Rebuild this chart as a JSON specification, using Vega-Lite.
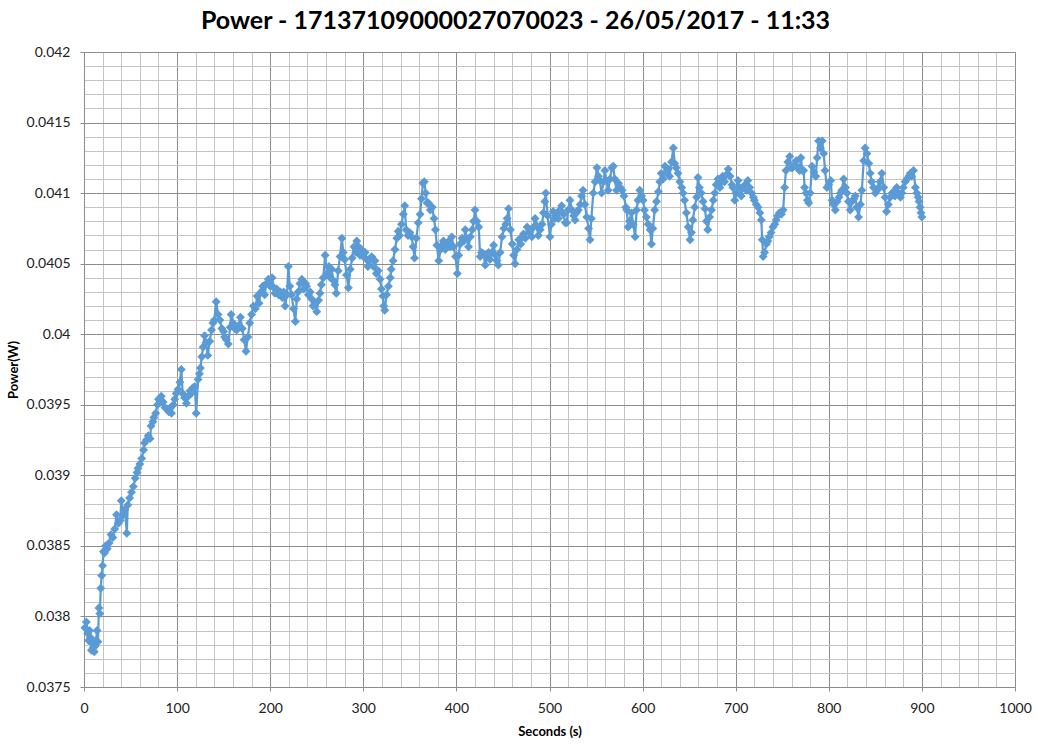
{
"$schema":"https://vega.github.io/schema/vega-lite/v6.json",
"width":931,"height":635,
"autosize":"none",
"padding":{"left":84,"top":52,"right":23,"bottom":60},
"background":"white",
"title":{"text":"Power - 17137109000027070023 - 26/05/2017 - 11:33","font":"Lato","fontSize":25,"fontWeight":"bold","color":"#000000","anchor":"middle","dx":-34,"offset":11},
"config":{"view":{"stroke":null}},
"data":{"values":[
{"s":1,"p":0.03792},{"s":2.5,"p":0.03796},{"s":4,"p":0.03788},{"s":5,"p":0.03783},{"s":6,"p":0.0379},{"s":7,"p":0.03785},{"s":8,"p":0.03776},{"s":9,"p":0.03781},{"s":10,"p":0.03778},{"s":11,"p":0.03775},{"s":12,"p":0.03779},{"s":13,"p":0.03783},{"s":14,"p":0.0379},{"s":15,"p":0.03782},{"s":16,"p":0.03806},{"s":17,"p":0.03802},{"s":18,"p":0.0382},{"s":19,"p":0.03829},{"s":20,"p":0.03836},{"s":21,"p":0.03846},{"s":22,"p":0.03845},{"s":23,"p":0.0385},{"s":25,"p":0.03848},{"s":27,"p":0.03852},{"s":29,"p":0.03858},{"s":31,"p":0.03856},
{"s":33,"p":0.03862},{"s":35,"p":0.03872},{"s":37,"p":0.03866},{"s":39,"p":0.03868},{"s":40,"p":0.03882},{"s":42,"p":0.03872},{"s":44,"p":0.03876},{"s":46,"p":0.03859},{"s":47,"p":0.03879},{"s":49,"p":0.03884},{"s":51,"p":0.03888},{"s":53,"p":0.03892},{"s":55,"p":0.03898},{"s":57,"p":0.03902},{"s":58,"p":0.03905},{"s":60,"p":0.03908},{"s":62,"p":0.03912},{"s":64,"p":0.03918},{"s":65,"p":0.03923},{"s":67,"p":0.03925},{"s":69,"p":0.03928},{"s":71,"p":0.03926},{"s":72,"p":0.03935},{"s":74,"p":0.03938},{"s":75,"p":0.03941},{"s":77,"p":0.03944},{"s":79,"p":0.0395},{"s":80,"p":0.03954},{"s":82,"p":0.03952},{"s":83,"p":0.03956},{"s":85,"p":0.03952},{"s":87,"p":0.03948},{"s":89,"p":0.03947},{"s":91,"p":0.03945},{"s":93,"p":0.03948},{"s":94,"p":0.03944},{"s":96,"p":0.0395},{"s":97.5,"p":0.03954},{"s":99,"p":0.03958},{"s":101,"p":0.03961},{"s":103,"p":0.03966},{"s":104.5,"p":0.03975},{"s":106,"p":0.03958},{"s":108,"p":0.03955},{"s":110,"p":0.03951},{"s":112,"p":0.03956},{"s":114,"p":0.0396},{"s":115,"p":0.03958},{"s":117,"p":0.03962},{"s":119,"p":0.03963},{"s":120.5,"p":0.03944},{"s":122.5,"p":0.03968},{"s":124,"p":0.03972},{"s":125,"p":0.03976},{"s":126.5,"p":0.03984},{"s":128,"p":0.03991},{"s":129.5,"p":0.03999},{"s":131,"p":0.03994},{"s":133,"p":0.03985},{"s":135,"p":0.03995},{"s":137,"p":0.04003},{"s":138.5,"p":0.04008},{"s":140,"p":0.0401},{"s":142,"p":0.04023},{"s":144,"p":0.04014},{"s":146,"p":0.0401},{"s":148,"p":0.04004},{"s":150,"p":0.04002},{"s":151,"p":0.03998},{"s":153,"p":0.03996},{"s":155,"p":0.03993},{"s":157,"p":0.04005},{"s":158,"p":0.04014},{"s":160,"p":0.04008},{"s":162,"p":0.04004},{"s":164,"p":0.04003},{"s":166,"p":0.04006},{"s":168,"p":0.04012},{"s":170,"p":0.04004},{"s":172,"p":0.03996},{"s":174,"p":0.03988},{"s":176,"p":0.03998},{"s":178,"p":0.04008},{"s":180,"p":0.04014},{"s":182,"p":0.0402},{"s":184,"p":0.04018},{"s":186,"p":0.04027},{"s":188,"p":0.04022},{"s":190,"p":0.0403},{"s":192,"p":0.04034},{"s":194,"p":0.04028},{"s":196,"p":0.04036},{"s":198,"p":0.04039},{"s":200,"p":0.04034},
{"s":202,"p":0.0404},{"s":204,"p":0.04033},{"s":205,"p":0.04029},{"s":207,"p":0.04032},{"s":209,"p":0.04028},{"s":211,"p":0.0403},{"s":213,"p":0.04026},{"s":214.5,"p":0.0403},{"s":216,"p":0.0402},{"s":218,"p":0.04028},{"s":219.5,"p":0.04048},{"s":221,"p":0.04034},{"s":223,"p":0.04028},{"s":225,"p":0.04018},{"s":227,"p":0.04009},{"s":228.5,"p":0.04025},{"s":230,"p":0.0403},{"s":232,"p":0.04036},{"s":234,"p":0.04039},{"s":236,"p":0.04032},{"s":238,"p":0.04036},{"s":239,"p":0.04034},{"s":241,"p":0.04028},{"s":243,"p":0.0403},{"s":244.5,"p":0.04025},{"s":246,"p":0.0402},{"s":248,"p":0.04022},{"s":250,"p":0.04016},{"s":252,"p":0.04024},{"s":253.5,"p":0.04029},{"s":255,"p":0.04035},{"s":257,"p":0.0404},{"s":259,"p":0.04056},{"s":261,"p":0.04043},{"s":263,"p":0.04048},{"s":264.5,"p":0.0404},{"s":266,"p":0.04046},{"s":268,"p":0.04038},{"s":269.5,"p":0.04035},{"s":271,"p":0.04029},{"s":273,"p":0.04045},{"s":275,"p":0.04055},{"s":277,"p":0.04068},{"s":278.5,"p":0.04058},{"s":280,"p":0.04053},{"s":282,"p":0.04042},{"s":284,"p":0.04033},{"s":286,"p":0.04046},{"s":288,"p":0.04054},{"s":290,"p":0.04062},{"s":292,"p":0.04058},{"s":293,"p":0.04066},{"s":295,"p":0.04062},{"s":296.5,"p":0.04056},{"s":298,"p":0.0406},{"s":300,"p":0.04055},
{"s":302,"p":0.04058},{"s":303.5,"p":0.04053},{"s":305,"p":0.04048},{"s":307,"p":0.04052},{"s":309,"p":0.04055},{"s":311,"p":0.04048},{"s":312.5,"p":0.04052},{"s":314,"p":0.04043},{"s":316,"p":0.04045},{"s":318,"p":0.04039},{"s":319.5,"p":0.04032},{"s":321,"p":0.04027},{"s":322,"p":0.0402},{"s":323,"p":0.04017},{"s":325,"p":0.04028},{"s":327,"p":0.04034},{"s":329,"p":0.0404},{"s":330,"p":0.04046},{"s":332,"p":0.04052},{"s":334,"p":0.0406},{"s":336,"p":0.04068},{"s":337.5,"p":0.04073},{"s":339,"p":0.0407},{"s":341,"p":0.04078},{"s":343,"p":0.04085},{"s":344.5,"p":0.04091},{"s":346,"p":0.04074},{"s":348,"p":0.0407},{"s":350,"p":0.04072},{"s":352,"p":0.04069},{"s":353.5,"p":0.04062},{"s":355,"p":0.04054},{"s":357,"p":0.04068},{"s":359,"p":0.04079},{"s":361,"p":0.04085},{"s":362.5,"p":0.04096},{"s":364,"p":0.04107},{"s":365.5,"p":0.04108},{"s":367,"p":0.041},{"s":368.5,"p":0.04093},{"s":370,"p":0.04093},{"s":372,"p":0.04088},{"s":374,"p":0.0409},{"s":376,"p":0.04082},{"s":377.5,"p":0.04074},{"s":379,"p":0.04063},{"s":381,"p":0.04052},{"s":383,"p":0.0406},{"s":384.5,"p":0.04063},{"s":386,"p":0.04066},{"s":388,"p":0.0406},{"s":390,"p":0.04064},{"s":392,"p":0.04066},{"s":393.5,"p":0.04062},{"s":395,"p":0.04069},{"s":397,"p":0.04062},{"s":399,"p":0.04055},
{"s":401,"p":0.04043},{"s":402.5,"p":0.04056},{"s":404,"p":0.04064},{"s":406,"p":0.04068},{"s":408,"p":0.04066},{"s":409.5,"p":0.04074},{"s":411,"p":0.04068},{"s":413,"p":0.04062},{"s":415,"p":0.04069},{"s":417,"p":0.04074},{"s":418.5,"p":0.0408},{"s":420,"p":0.04088},{"s":422,"p":0.0408},{"s":424,"p":0.04076},{"s":425.5,"p":0.04055},{"s":427,"p":0.04058},{"s":429,"p":0.04057},{"s":431,"p":0.04049},{"s":433,"p":0.04055},{"s":434.5,"p":0.04058},{"s":436,"p":0.04053},{"s":438,"p":0.04058},{"s":440,"p":0.04063},{"s":442,"p":0.04056},{"s":443.5,"p":0.04052},{"s":445,"p":0.04049},{"s":447,"p":0.04058},{"s":449,"p":0.04069},{"s":451,"p":0.04075},{"s":453,"p":0.04078},{"s":454.5,"p":0.04082},{"s":456,"p":0.04089},{"s":458,"p":0.04074},{"s":460,"p":0.04064},{"s":461.5,"p":0.04056},{"s":463,"p":0.0405},{"s":465,"p":0.0406},{"s":467,"p":0.04067},{"s":469,"p":0.04064},{"s":471,"p":0.04069},{"s":472,"p":0.04071},{"s":474,"p":0.04068},{"s":476,"p":0.04076},{"s":478,"p":0.04072},{"s":480,"p":0.04074},{"s":481,"p":0.04069},{"s":483,"p":0.04076},{"s":484.5,"p":0.04082},{"s":486,"p":0.04077},{"s":488,"p":0.0407},{"s":490,"p":0.04074},{"s":492,"p":0.04078},{"s":493.5,"p":0.04086},{"s":495,"p":0.04094},{"s":496,"p":0.041},{"s":498,"p":0.04084},
{"s":500.5,"p":0.04069},{"s":502,"p":0.04078},{"s":504,"p":0.04087},{"s":506,"p":0.04082},{"s":508,"p":0.04085},{"s":509.5,"p":0.04082},{"s":511,"p":0.04088},{"s":513,"p":0.04091},{"s":515,"p":0.04085},{"s":517,"p":0.04079},{"s":518.5,"p":0.04079},{"s":520,"p":0.04088},{"s":522,"p":0.04095},{"s":524,"p":0.04088},{"s":526,"p":0.04084},{"s":527.5,"p":0.04081},{"s":529,"p":0.04086},{"s":531,"p":0.04088},{"s":533,"p":0.04092},{"s":534.5,"p":0.04098},{"s":536,"p":0.04102},{"s":538,"p":0.04092},{"s":540,"p":0.04083},{"s":542,"p":0.04075},{"s":543.5,"p":0.04067},{"s":545,"p":0.04082},{"s":547,"p":0.041},{"s":549,"p":0.04108},{"s":551,"p":0.04118},{"s":552.5,"p":0.04112},{"s":554,"p":0.04109},{"s":556,"p":0.041},{"s":558,"p":0.04108},{"s":559.5,"p":0.04116},{"s":561,"p":0.04109},{"s":563,"p":0.04102},{"s":565,"p":0.0411},{"s":567,"p":0.04118},{"s":568.5,"p":0.04119},{"s":570,"p":0.0411},{"s":572,"p":0.04102},{"s":574,"p":0.04107},{"s":576,"p":0.04104},{"s":578,"p":0.04102},{"s":580,"p":0.04098},{"s":582,"p":0.0409},{"s":583,"p":0.04088},{"s":584.5,"p":0.04076},{"s":586,"p":0.0408},{"s":588,"p":0.04086},{"s":590,"p":0.04078},{"s":592,"p":0.04069},{"s":593.5,"p":0.04088},{"s":595,"p":0.04095},{"s":597,"p":0.04102},{"s":599,"p":0.04098},
{"s":600.5,"p":0.04095},{"s":602,"p":0.04088},{"s":604,"p":0.04083},{"s":606,"p":0.04078},{"s":608,"p":0.04074},{"s":609.5,"p":0.04064},{"s":611,"p":0.04075},{"s":613,"p":0.04088},{"s":615,"p":0.04094},{"s":617,"p":0.04101},{"s":618.5,"p":0.04108},{"s":620,"p":0.04114},{"s":622,"p":0.0411},{"s":624,"p":0.04119},{"s":626,"p":0.04114},{"s":627.5,"p":0.04117},{"s":629,"p":0.04112},{"s":631,"p":0.04122},{"s":633,"p":0.04132},{"s":634.5,"p":0.04121},{"s":636,"p":0.04118},{"s":638,"p":0.04114},{"s":640,"p":0.04108},{"s":642,"p":0.04104},{"s":643.5,"p":0.041},{"s":645,"p":0.04095},{"s":647,"p":0.04086},{"s":649,"p":0.04076},{"s":651,"p":0.04067},{"s":652.5,"p":0.04072},{"s":654,"p":0.04081},{"s":656,"p":0.0409},{"s":658,"p":0.04097},{"s":659.5,"p":0.04111},{"s":661,"p":0.04104},{"s":663,"p":0.041},{"s":665,"p":0.04094},{"s":667,"p":0.04089},{"s":668.5,"p":0.0408},{"s":670,"p":0.04074},{"s":672,"p":0.04083},{"s":674,"p":0.04088},{"s":676,"p":0.04095},{"s":677.5,"p":0.041},{"s":679,"p":0.04106},{"s":681,"p":0.0411},{"s":683,"p":0.04104},{"s":685,"p":0.04108},{"s":686,"p":0.04112},{"s":688,"p":0.04108},{"s":690,"p":0.04113},{"s":692,"p":0.04117},{"s":694,"p":0.04112},{"s":696,"p":0.04106},{"s":697,"p":0.04104},{"s":699,"p":0.04095},
{"s":700.5,"p":0.041},{"s":702.5,"p":0.04109},{"s":704,"p":0.04104},{"s":706,"p":0.04098},{"s":708,"p":0.04104},{"s":710,"p":0.04106},{"s":711.5,"p":0.04102},{"s":713,"p":0.04109},{"s":715,"p":0.04104},{"s":717,"p":0.041},{"s":719,"p":0.04097},{"s":720,"p":0.04095},{"s":722,"p":0.04092},{"s":724,"p":0.0409},{"s":726,"p":0.04086},{"s":727.5,"p":0.04081},{"s":728.5,"p":0.04067},{"s":729.5,"p":0.04055},{"s":731,"p":0.04058},{"s":733,"p":0.04064},{"s":734.5,"p":0.04066},{"s":736,"p":0.04069},{"s":738,"p":0.04072},{"s":740,"p":0.04076},{"s":742,"p":0.04078},{"s":743.5,"p":0.04081},{"s":745,"p":0.04084},{"s":747,"p":0.04086},{"s":749,"p":0.04085},{"s":751,"p":0.04088},{"s":752.5,"p":0.04104},{"s":754,"p":0.04116},{"s":756,"p":0.04122},{"s":758,"p":0.04126},{"s":759.5,"p":0.04118},{"s":761,"p":0.04118},{"s":763,"p":0.0412},{"s":765,"p":0.04123},{"s":767,"p":0.04118},{"s":768.5,"p":0.04116},{"s":770,"p":0.04125},{"s":771.5,"p":0.04116},{"s":773,"p":0.04116},{"s":774,"p":0.04104},{"s":775.5,"p":0.041},{"s":777,"p":0.04095},{"s":778.5,"p":0.04093},{"s":780,"p":0.041},{"s":782,"p":0.04119},{"s":784,"p":0.04115},{"s":786,"p":0.04112},{"s":787.5,"p":0.04125},{"s":789,"p":0.04137},{"s":791,"p":0.04132},{"s":793,"p":0.04137},{"s":794.5,"p":0.04128},{"s":796,"p":0.04116},{"s":798,"p":0.04104},
{"s":800,"p":0.04106},{"s":802,"p":0.04109},{"s":803.5,"p":0.04095},{"s":805,"p":0.04092},{"s":807,"p":0.04088},{"s":809,"p":0.04094},{"s":811,"p":0.04097},{"s":812.5,"p":0.041},{"s":814,"p":0.04102},{"s":816,"p":0.0411},{"s":818,"p":0.04104},{"s":819.5,"p":0.041},{"s":821,"p":0.04094},{"s":823,"p":0.04088},{"s":825,"p":0.04094},{"s":827,"p":0.04096},{"s":828.5,"p":0.04098},{"s":830,"p":0.0409},{"s":832,"p":0.04083},{"s":834,"p":0.04092},{"s":835.5,"p":0.04102},{"s":837.5,"p":0.04123},{"s":839,"p":0.04132},{"s":841,"p":0.04128},{"s":843,"p":0.04121},{"s":844.5,"p":0.04114},{"s":846,"p":0.04108},{"s":848,"p":0.04104},{"s":850,"p":0.041},{"s":852,"p":0.04102},{"s":853.5,"p":0.04104},{"s":855,"p":0.04108},{"s":857,"p":0.04114},{"s":859,"p":0.04104},{"s":860.5,"p":0.04097},{"s":862,"p":0.04087},{"s":864,"p":0.04092},{"s":866,"p":0.04097},{"s":868,"p":0.041},{"s":869.5,"p":0.04101},{"s":871,"p":0.04098},{"s":873,"p":0.04104},{"s":875,"p":0.041},{"s":877,"p":0.04097},{"s":878.5,"p":0.041},{"s":880,"p":0.04104},{"s":882,"p":0.04108},{"s":884,"p":0.0411},{"s":886,"p":0.04112},{"s":887.5,"p":0.04114},{"s":889,"p":0.04112},{"s":891,"p":0.04116},{"s":893,"p":0.04104},{"s":894.5,"p":0.041},{"s":896,"p":0.04097},{"s":897,"p":0.04094},{"s":898,"p":0.0409},{"s":899,"p":0.04086},{"s":900,"p":0.04083}
]},
"encoding":{
"x":{"field":"s","type":"quantitative","scale":{"domain":[0,1000],"nice":false,"zero":false},
"axis":{"title":"Seconds (s)","titleFont":"Lato","titleFontSize":13,"titleFontWeight":"bold","titleColor":"#000000","titlePadding":10,
"values":[0,20,40,60,80,100,120,140,160,180,200,220,240,260,280,300,320,340,360,380,400,420,440,460,480,500,520,540,560,580,600,620,640,660,680,700,720,740,760,780,800,820,840,860,880,900,920,940,960,980,1000],
"labelExpr":"datum.value % 100 === 0 ? format(datum.value, 'd') : ''","labelOverlap":false,"labelFlush":false,"labelFont":"Lato","labelFontSize":14,"labelColor":"#222222","labelPadding":10,
"grid":true,"gridColor":{"condition":{"test":"datum.value % 100 === 0","value":"#8c8c8c"},"value":"#c4c4c4"},"gridWidth":1,
"ticks":true,"tickSize":4,"tickColor":"#8c8c8c","tickOpacity":{"condition":{"test":"datum.value % 100 === 0","value":1},"value":0},
"domainColor":"#8c8c8c","domainWidth":1}},
"y":{"field":"p","type":"quantitative","scale":{"domain":[0.0375,0.042],"nice":false,"zero":false},
"axis":{"title":"Power(W)","titleFont":"Lato","titleFontSize":13,"titleFontWeight":"bold","titleColor":"#000000","titlePadding":6,
"values":[0.0375,0.0376,0.0377,0.0378,0.0379,0.038,0.0381,0.0382,0.0383,0.0384,0.0385,0.0386,0.0387,0.0388,0.0389,0.039,0.0391,0.0392,0.0393,0.0394,0.0395,0.0396,0.0397,0.0398,0.0399,0.04,0.0401,0.0402,0.0403,0.0404,0.0405,0.0406,0.0407,0.0408,0.0409,0.041,0.0411,0.0412,0.0413,0.0414,0.0415,0.0416,0.0417,0.0418,0.0419,0.042],
"labelExpr":"round(datum.value*10000) % 5 === 0 ? format(datum.value, '.4~f') : ''","labelOverlap":false,"labelFlush":false,"labelFont":"Lato","labelFontSize":14,"labelColor":"#222222","labelPadding":10,
"grid":true,"gridColor":{"condition":{"test":"round(datum.value*10000) % 5 === 0","value":"#8c8c8c"},"value":"#c4c4c4"},"gridWidth":1,
"ticks":true,"tickSize":4,"tickColor":"#8c8c8c","tickOpacity":{"condition":{"test":"round(datum.value*10000) % 5 === 0","value":1},"value":0},
"domainColor":"#8c8c8c","domainWidth":1}}
},
"layer":[
{"mark":{"type":"line","color":"#5B9BD5","strokeWidth":2.25}},
{"mark":{"type":"point","shape":"diamond","filled":true,"size":80,"color":"#5B9BD5","opacity":1}}
]
}
